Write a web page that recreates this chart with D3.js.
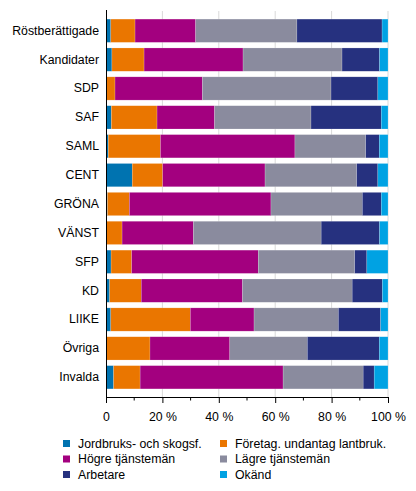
<!DOCTYPE html>
<html>
<head>
<meta charset="utf-8">
<script src="https://cdn.jsdelivr.net/npm/d3@7"></script>
<style>
  body { margin: 0; background: #fff; }
  text { font-family: "Liberation Sans", Arial, sans-serif; fill: #000; }
</style>
</head>
<body>
<div id="chart"></div>
<script>
// categories (top to bottom)
const categories = ["Röstberättigade", "Kandidater", "SDP", "SAF", "SAML", "CENT", "GRÖNA",
  "VÄNST", "SFP", "KD", "LIIKE", "Övriga", "Invalda"];

const seriesNames = ["Jordbruks- och skogsf.", "Företag. undantag lantbruk.", "Högre tjänstemän",
  "Lägre tjänstemän", "Arbetare", "Okänd"];

const seriesColors = ["#0073b0", "#ea7600", "#a3007f", "#8a8b9e", "#26317f", "#00a2e3"];

// percentage shares, one array per series, in category order
const jordbruk = [1.7, 2.1, 0.2, 1.9, 0.8, 9.3, 0.5, 0.2, 1.8, 1.3, 1.7, 0.0, 2.7];
const foretag  = [8.6, 11.4, 3.0, 16.2, 18.5, 10.8, 7.8, 5.5, 7.3, 11.2, 28.2, 15.6, 9.4];
const hogre    = [21.5, 35.1, 31.0, 20.4, 47.7, 36.3, 50.2, 25.3, 44.9, 35.9, 22.6, 28.3, 50.7];
const lagre    = [35.9, 35.1, 45.6, 34.2, 25.1, 32.5, 32.4, 45.3, 34.2, 38.9, 29.9, 27.5, 28.4];
const arbetare = [30.2, 13.3, 16.6, 24.9, 4.8, 7.5, 6.7, 20.7, 4.3, 10.7, 15.0, 25.5, 3.9];
const okand    = [2.1, 3.0, 3.6, 2.4, 3.1, 3.6, 2.4, 3.0, 7.5, 2.0, 2.6, 3.1, 4.9];

const xTicks = [0, 20, 40, 60, 80, 100];
const xTickLabels = ["0", "20 %", "40 %", "60 %", "80 %", "100 %"];

const seriesValues = [jordbruk, foretag, hogre, lagre, arbetare, okand];

const width = 416, height = 491;
const margin = { top: 11, left: 106, right: 28, bottom: 94 };
const fontSize = 12.3;

const svg = d3.select("#chart").append("svg")
    .attr("width", width)
    .attr("height", height);

const x = d3.scaleLinear().domain([0, 100]).range([margin.left, width - margin.right]);
const y = d3.scaleBand().domain(categories)
    .range([margin.top, height - margin.bottom])
    .paddingInner(0.194)
    .paddingOuter(0.28);

// gridlines
svg.append("g")
    .selectAll("line")
    .data(xTicks.slice(1))
    .join("line")
    .attr("x1", d => x(d)).attr("x2", d => x(d))
    .attr("y1", margin.top).attr("y2", height - margin.bottom)
    .attr("stroke", "#d9d9d9")
    .attr("stroke-width", 1);

// stack data
const rows = categories.map((c, i) => {
    const r = { cat: c };
    seriesNames.forEach((s, j) => r[s] = seriesValues[j][i]);
    return r;
});
const stacked = d3.stack().keys(seriesNames)(rows);

svg.append("g")
    .selectAll("g")
    .data(stacked)
    .join("g")
    .attr("fill", (d, i) => seriesColors[i])
    .selectAll("rect")
    .data(d => d)
    .join("rect")
    .attr("x", d => x(d[0]))
    .attr("y", d => y(d.data.cat))
    .attr("width", d => Math.max(0, x(d[1]) - x(d[0])))
    .attr("height", y.bandwidth())
    .attr("stroke", "rgba(255,255,255,0.35)")
    .attr("stroke-width", 0.5);

// x axis
const axisY = height - margin.bottom;
const xAxis = svg.append("g")
    .attr("transform", `translate(0,${axisY})`)
    .call(d3.axisBottom(x).tickValues(xTicks).tickSize(6)
        .tickFormat((d, i) => xTickLabels[i]));
xAxis.select(".domain").attr("stroke", "#000").attr("d", `M${x(0)},0.5H${x(100)}`);
xAxis.selectAll(".tick line").attr("stroke", "#000");
xAxis.selectAll(".tick text").attr("font-size", fontSize).attr("dy", "1.25em");

// minor ticks
svg.append("g")
    .selectAll("line")
    .data(d3.range(10, 100, 20))
    .join("line")
    .attr("x1", d => x(d)).attr("x2", d => x(d))
    .attr("y1", axisY).attr("y2", axisY + 3.5)
    .attr("stroke", "#000");

// y axis
const yAxis = svg.append("g")
    .attr("transform", `translate(${margin.left},0)`)
    .call(d3.axisLeft(y).tickSize(0).tickPadding(7));
yAxis.select(".domain").attr("stroke", "#000")
    .attr("d", `M0.5,${margin.top - 1}V${axisY}`);
yAxis.selectAll(".tick text").attr("font-size", fontSize);

// legend
const legend = svg.append("g");
const legendCols = [63, 220];
const legendRows = [440, 455.5, 471];
seriesNames.forEach((s, i) => {
    const g = legend.append("g")
        .attr("transform", `translate(${legendCols[i % 2]},${legendRows[Math.floor(i / 2)]})`);
    g.append("rect").attr("width", 7).attr("height", 7).attr("fill", seriesColors[i]);
    g.append("text").attr("x", 15).attr("y", 7.5).attr("font-size", fontSize).text(s);
});
</script>
</body>
</html>
